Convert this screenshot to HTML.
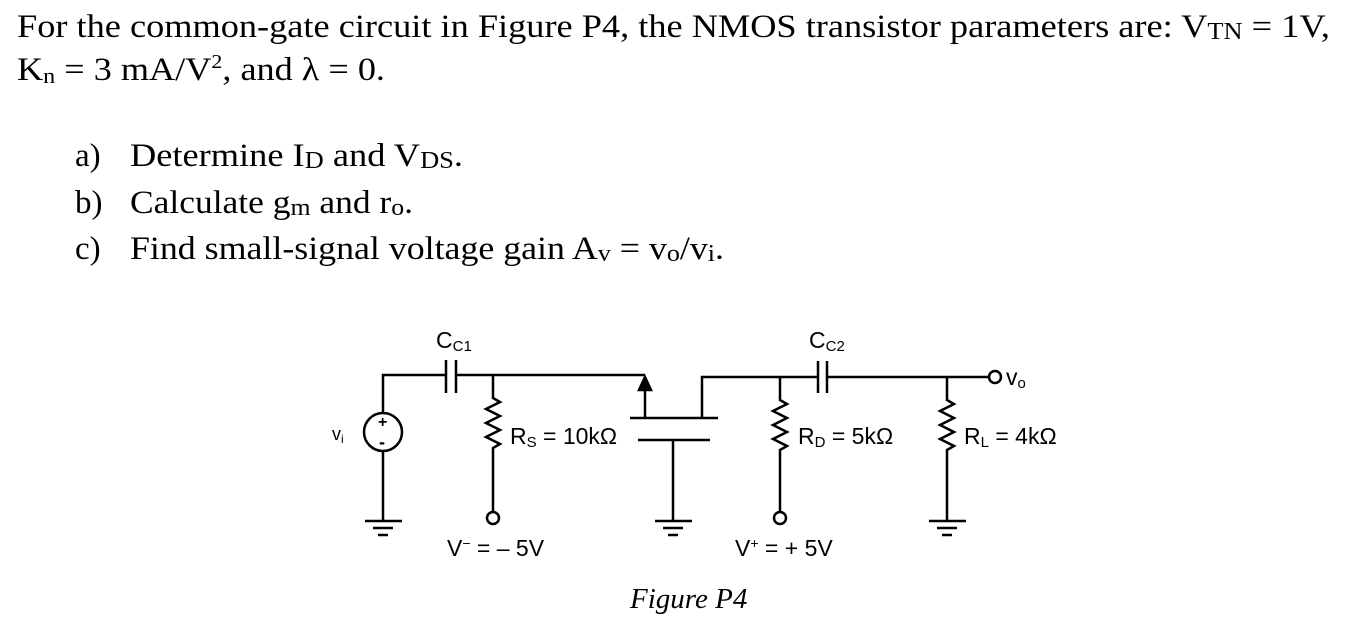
<!DOCTYPE html>
<html><head><meta charset="utf-8"><style>html,body{margin:0;padding:0;background:#fff}svg{display:block}</style></head>
<body>
<svg width="1352" height="618" viewBox="0 0 1352 618" xmlns="http://www.w3.org/2000/svg">
<g font-family="Liberation Serif, serif" font-size="33" fill="#000">
<text x="17" y="37" textLength="1313" lengthAdjust="spacingAndGlyphs">For the common-gate circuit in Figure P4, the NMOS transistor parameters are: V<tspan font-size="24" dy="2">TN</tspan><tspan dy="-2"> = 1V,</tspan></text>
<text x="17" y="80" textLength="368" lengthAdjust="spacingAndGlyphs">K<tspan font-size="22" dy="3">n</tspan><tspan dy="-3"> = 3 mA/V</tspan><tspan font-size="20" dy="-12">2</tspan><tspan dy="12">, and λ = 0.</tspan></text>
<text x="75" y="166">a)</text>
<text x="130" y="166" textLength="333" lengthAdjust="spacingAndGlyphs">Determine I<tspan font-size="24" dy="2">D</tspan><tspan dy="-2"> and V</tspan><tspan font-size="24" dy="2">DS</tspan><tspan dy="-2">.</tspan></text>
<text x="75" y="213">b)</text>
<text x="130" y="213" textLength="283" lengthAdjust="spacingAndGlyphs">Calculate g<tspan font-size="24" dy="2">m</tspan><tspan dy="-2"> and r</tspan><tspan font-size="24" dy="2">o</tspan><tspan dy="-2">.</tspan></text>
<text x="75" y="259">c)</text>
<text x="130" y="259" textLength="594" lengthAdjust="spacingAndGlyphs">Find small-signal voltage gain A<tspan font-size="24" dy="2">v</tspan><tspan dy="-2"> = v</tspan><tspan font-size="24" dy="2">o</tspan><tspan dy="-2">/v</tspan><tspan font-size="24" dy="2">i</tspan><tspan dy="-2">.</tspan></text>
<text x="630" y="608" font-style="italic" font-size="29">Figure P4</text>
</g>
<g stroke="#000" stroke-width="2.5" fill="none">
<polyline points="383,413 383,375 446,375"/>
<line x1="446" y1="360" x2="446" y2="393"/><line x1="456" y1="360" x2="456" y2="393"/>
<line x1="456" y1="375" x2="645" y2="375"/>
<circle cx="383" cy="432" r="19"/>
<line x1="383" y1="451" x2="383" y2="521"/>
<line x1="365" y1="521" x2="402" y2="521"/><line x1="373" y1="528" x2="393" y2="528"/><line x1="378" y1="535" x2="388" y2="535"/>
<polyline points="493,375 493,398 500,402 486,409 500,416 486,423 500,430 486,437 500,444 493,448 493,512"/>
<circle cx="493" cy="518" r="6"/>
<line x1="645" y1="386" x2="645" y2="418"/>
<polygon points="645,377 639,390 651,390" fill="#000"/>
<line x1="630" y1="418" x2="718" y2="418"/>
<line x1="638" y1="440" x2="710" y2="440"/>
<line x1="673" y1="440" x2="673" y2="521"/>
<line x1="655" y1="521" x2="692" y2="521"/><line x1="663" y1="528" x2="683" y2="528"/><line x1="668" y1="535" x2="678" y2="535"/>
<polyline points="702,418 702,377 818,377"/>
<polyline points="780,377 780,400 787,404 773,411 787,418 773,425 787,432 773,439 787,446 780,450 780,512"/>
<circle cx="780" cy="518" r="6"/>
<line x1="818" y1="361" x2="818" y2="393"/><line x1="827" y1="361" x2="827" y2="393"/>
<line x1="827" y1="377" x2="989" y2="377"/>
<circle cx="995" cy="377" r="6"/>
<polyline points="947,377 947,400 954,404 940,411 954,418 940,425 954,432 940,439 954,446 947,450 947,521"/>
<line x1="929" y1="521" x2="966" y2="521"/><line x1="937" y1="528" x2="957" y2="528"/><line x1="942" y1="535" x2="952" y2="535"/>
</g>
<g font-family="Liberation Sans, sans-serif" font-size="23" fill="#000">
<text x="378" y="427" font-size="16" font-weight="bold">+</text>
<text x="379" y="448" font-size="18" font-weight="bold">-</text>
<text x="332" y="440" font-size="18">v<tspan font-size="12" dy="3">i</tspan></text>
<text x="436" y="348">C<tspan font-size="15" dy="3">C1</tspan></text>
<text x="809" y="348">C<tspan font-size="15" dy="3">C2</tspan></text>
<text x="510" y="444">R<tspan font-size="15" dy="3">S</tspan><tspan dy="-3"> = 10kΩ</tspan></text>
<text x="798" y="444">R<tspan font-size="15" dy="3">D</tspan><tspan dy="-3"> = 5kΩ</tspan></text>
<text x="964" y="444">R<tspan font-size="15" dy="3">L</tspan><tspan dy="-3"> = 4kΩ</tspan></text>
<text x="1006" y="385">v<tspan font-size="15" dy="3">o</tspan></text>
<text x="447" y="556">V<tspan font-size="14" dy="-8">−</tspan><tspan dy="8"> = – 5V</tspan></text>
<text x="735" y="556">V<tspan font-size="14" dy="-8">+</tspan><tspan dy="8"> = + 5V</tspan></text>
</g>
</svg>
</body></html>
